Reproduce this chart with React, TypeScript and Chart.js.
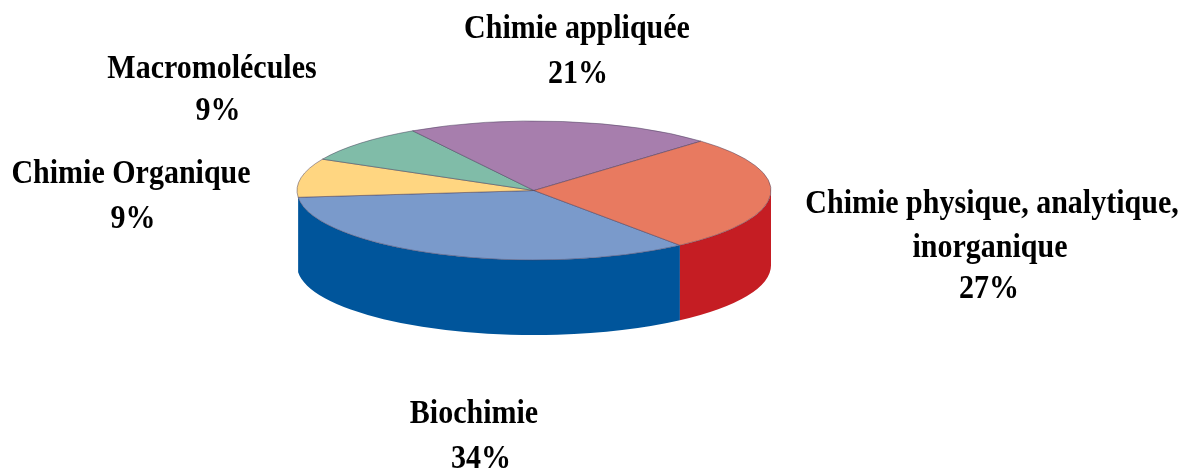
import React, { useEffect, useRef } from "react";
import { Chart, registerables } from "chart.js";

Chart.register(...registerables);

const categories = ["Biochimie", "Chimie Organique", "Macromolécules", "Chimie appliquée", "Chimie physique, analytique, inorganique"];
const categoryLines = [["Biochimie"], ["Chimie Organique"], ["Macromolécules"], ["Chimie appliquée"], ["Chimie physique, analytique,", "inorganique"]];
const shares = [34, 9, 9, 21, 27];
const topColors = ["#7A9ACB", "#FFD681", "#80BCA8", "#A77EAD", "#E87A60"];
const sideColors = ["#00559B", "transparent", "transparent", "transparent", "#C51D23"];

const W = 1183;
const H = 470;
const CX = 534;
const CY = 190.5;
const RX = 237;
const RY = 69.5;
const DEPTH = 75;
const TEXT_STRETCH = 1.12;
const labelAnchors = [
  { x: [474, 481], baselines: [423, 468] },
  { x: [131, 133], baselines: [183, 228] },
  { x: [212, 218], baselines: [78, 120] },
  { x: [577, 578], baselines: [38, 83] },
  { x: [992, 990, 989], baselines: [213, 257, 298] },
];

const pie3d = {
  id: "pie3d",
  beforeDatasetsDraw(chart: any) {
    const ctx = chart.ctx;
    const arcs = chart.getDatasetMeta(0).data;
    const TAU = Math.PI * 2;
    arcs.forEach((arc: any, i: number) => {
      ctx.fillStyle = sideColors[i];
      for (let k = -2; k <= 2; k++) {
        const a = Math.max(arc.startAngle + k * TAU, 0);
        const b = Math.min(arc.endAngle + k * TAU, Math.PI);
        if (b <= a) continue;
        ctx.beginPath();
        ctx.ellipse(CX, CY, RX, RY, 0, a, b);
        ctx.ellipse(CX, CY + DEPTH, RX, RY, 0, b, a, true);
        ctx.closePath();
        ctx.fill();
      }
    });
    ctx.save();
    ctx.translate(CX, CY);
    ctx.scale(1, RY / RX);
    ctx.translate(-chart.chartArea.left - chart.chartArea.width / 2, -chart.chartArea.top - chart.chartArea.height / 2);
  },
  afterDatasetsDraw(chart: any) {
    chart.ctx.restore();
  },
  afterDraw(chart: any) {
    const ctx = chart.ctx;
    ctx.fillStyle = "#000";
    ctx.font = 'bold 30px "Liberation Serif"';
    ctx.textAlign = "center";
    ctx.textBaseline = "alphabetic";
    categoryLines.forEach((lines, i) => {
      const anchor = labelAnchors[i];
      [...lines, `${shares[i]}%`].forEach((text, j) => {
        ctx.save();
        ctx.translate(anchor.x[j], anchor.baselines[j]);
        ctx.scale(1, TEXT_STRETCH);
        ctx.fillText(text, 0, 0);
        ctx.restore();
      });
    });
  },
};

export default function App() {
  const ref = useRef<HTMLCanvasElement>(null);
  useEffect(() => {
    const chart = new Chart(ref.current as HTMLCanvasElement, {
      type: "pie",
      data: {
        labels: categories,
        datasets: [
          {
            data: shares,
            backgroundColor: topColors,
            borderColor: "rgba(70,60,90,0.75)",
            borderWidth: 1,
            radius: RX,
            clip: false,
          } as any,
        ],
      },
      options: {
        responsive: false,
        animation: false,
        devicePixelRatio: 1,
        rotation: 142,
        layout: { padding: { left: 0, top: 0, right: W - 2 * CX, bottom: H - 2 * CY } },
        plugins: { legend: { display: false }, tooltip: { enabled: false } },
      },
      plugins: [pie3d],
    });
    return () => chart.destroy();
  }, []);
  return (
    <div style={{ position: "absolute", left: 0, top: 0, width: W, height: H, background: "#fff" }}>
      <canvas ref={ref} width={W} height={H} style={{ display: "block" }} />
    </div>
  );
}
